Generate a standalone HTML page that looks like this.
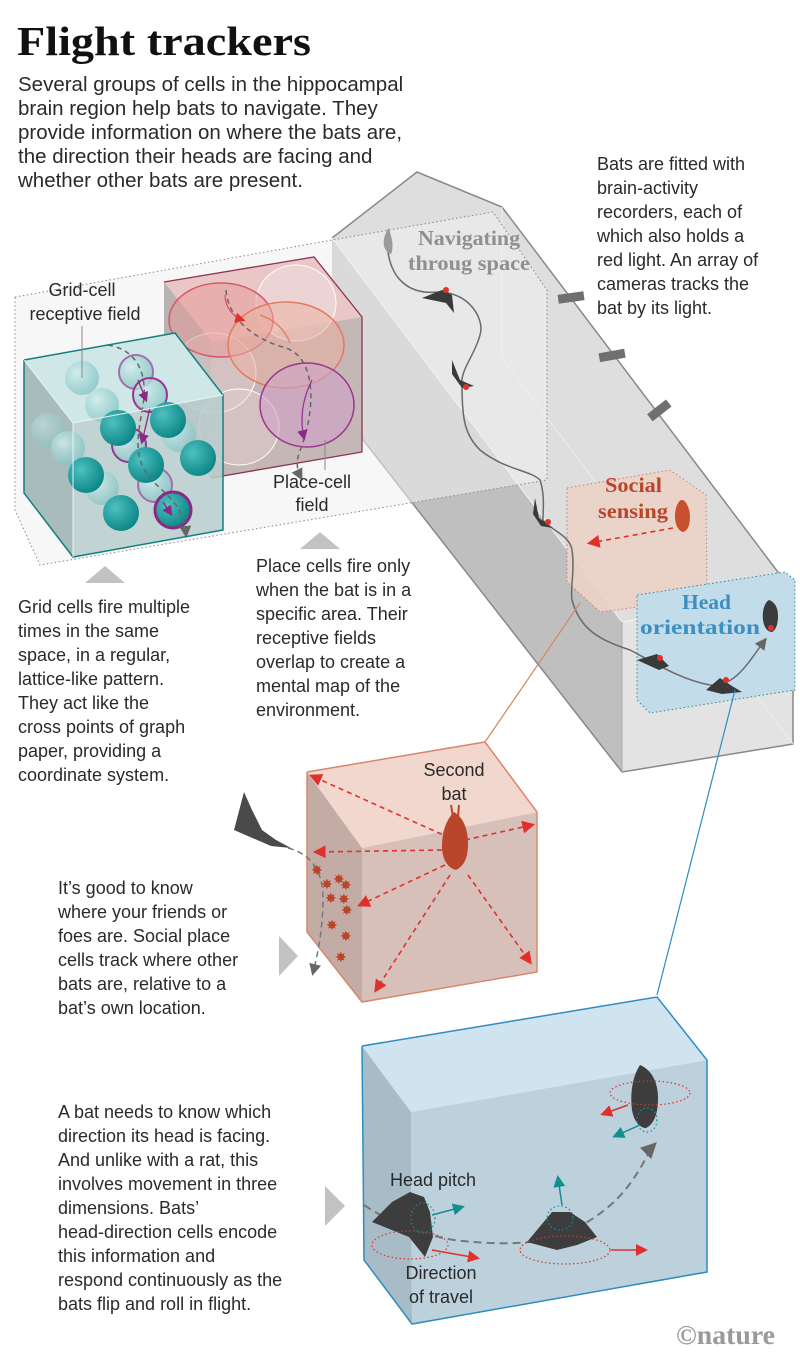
<!DOCTYPE html>
<html><head><meta charset="utf-8"><style>
html,body{margin:0;padding:0;background:#fff;}
svg{display:block;}
.t{font-family:"Liberation Sans",sans-serif;font-size:18px;fill:#2a2a2a;}
.i{font-family:"Liberation Sans",sans-serif;font-size:20.5px;fill:#2a2a2a;}
.s{font-family:"Liberation Serif",serif;font-weight:bold;font-size:21px;}
</style></head><body>
<svg width="800" height="1368" viewBox="0 0 800 1368" xmlns="http://www.w3.org/2000/svg">
<defs>
<marker id="ag" markerWidth="8" markerHeight="8" refX="6" refY="4" orient="auto"><path d="M0,0 L8,4 L0,8 Z" fill="#666"/></marker>
<marker id="ar" markerWidth="8" markerHeight="8" refX="6" refY="4" orient="auto"><path d="M0,0 L8,4 L0,8 Z" fill="#e0302a"/></marker>
<marker id="at" markerWidth="8" markerHeight="8" refX="6" refY="4" orient="auto"><path d="M0,0 L8,4 L0,8 Z" fill="#138f8f"/></marker>
<marker id="ap" markerWidth="8" markerHeight="8" refX="6" refY="4" orient="auto"><path d="M0,0 L8,4 L0,8 Z" fill="#8a2a86"/></marker>
<radialGradient id="gt" cx="0.35" cy="0.35" r="0.7"><stop offset="0" stop-color="#4fc0c0"/><stop offset="1" stop-color="#0a8585"/></radialGradient>
<radialGradient id="gl" cx="0.35" cy="0.35" r="0.7"><stop offset="0" stop-color="#d4eeee" stop-opacity="0.8"/><stop offset="1" stop-color="#7cc0c0" stop-opacity="0.7"/></radialGradient>
</defs>

<!-- Title & intro -->
<text x="17" y="55" font-family="'Liberation Serif',serif" font-weight="bold" font-size="41" fill="#111" textLength="294" lengthAdjust="spacingAndGlyphs">Flight trackers</text>
<text class="i" x="18" y="91">Several groups of cells in the hippocampal</text>
<text class="i" x="18" y="115">brain region help bats to navigate. They</text>
<text class="i" x="18" y="139">provide information on where the bats are,</text>
<text class="i" x="18" y="163">the direction their heads are facing and</text>
<text class="i" x="18" y="187">whether other bats are present.</text>

<text class="t" x="597" y="170">Bats are fitted with</text>
<text class="t" x="597" y="194">brain-activity</text>
<text class="t" x="597" y="218">recorders, each of</text>
<text class="t" x="597" y="242">which also holds a</text>
<text class="t" x="597" y="266">red light. An array of</text>
<text class="t" x="597" y="290">cameras tracks the</text>
<text class="t" x="597" y="314">bat by its light.</text>

<!-- Big prism -->
<polygon points="332,238 622,622 622,772 332,400" fill="#bfbfbf"/>
<polygon points="332,238 417,172 502,207 793,592 622,622" fill="#dedede"/>
<polygon points="622,622 793,592 793,744 622,772" fill="#e3e3e3"/>
<polyline points="332,238 417,172 502,207 793,592 793,744 622,772 332,400" fill="none" stroke="#888" stroke-width="1.5"/>
<line x1="332" y1="238" x2="622" y2="622" stroke="#f4f4f4" stroke-width="1"/>
<line x1="622" y1="622" x2="793" y2="592" stroke="#f4f4f4"/>
<line x1="622" y1="622" x2="622" y2="772" stroke="#aaa"/>
<line x1="502" y1="207" x2="502" y2="358" stroke="#eee"/>
<line x1="502" y1="358" x2="793" y2="744" stroke="#eee"/>
<!-- cameras -->
<rect x="558" y="293" width="26" height="9" fill="#6d706c" transform="rotate(-8 571 297)"/>
<rect x="599" y="351" width="26" height="9" fill="#6d706c" transform="rotate(-10 612 355)"/>
<rect x="647" y="406" width="24" height="9" fill="#6d706c" transform="rotate(-38 659 410)"/>

<!-- Social sensing box -->
<polygon points="567,488 670,470 706,495 707,598 600,612 567,582" fill="#ecd2c6" opacity="0.9" stroke="#c47a62" stroke-dasharray="1.5,2.5" stroke-width="1"/>
<text class="s" x="605" y="492" fill="#b9452b" textLength="57" lengthAdjust="spacingAndGlyphs">Social</text>
<text class="s" x="598" y="518" fill="#b9452b" textLength="70" lengthAdjust="spacingAndGlyphs">sensing</text>
<path d="M681,500 c-4,2 -6,10 -6,16 c0,10 4,15 8,16 c4,-1 7,-6 7,-15 c0,-7 -3,-15 -7,-17 z" fill="#c8502f"/>
<line x1="673" y1="528" x2="590" y2="543" stroke="#e0302a" stroke-width="1.6" stroke-dasharray="5,4" marker-end="url(#ar)"/>

<!-- Head orientation box -->
<polygon points="637,595 785,572 795,580 795,690 650,713 637,700" fill="#c3dcea" stroke="#2a8a9a" stroke-dasharray="1.5,2.5"/>
<text class="s" x="682" y="609" fill="#3b8fc2" textLength="49" lengthAdjust="spacingAndGlyphs">Head</text>
<text class="s" x="640" y="634" fill="#3b8fc2" textLength="120" lengthAdjust="spacingAndGlyphs">orientation</text>
<path d="M769,600 c-5,3 -7,12 -6,20 c1,8 5,12 9,12 c4,-2 6,-8 6,-16 c0,-8 -3,-14 -9,-16 z" fill="#3b3b3b"/>
<circle cx="771" cy="628" r="3" fill="#e0302a"/>

<!-- Slab (translucent) -->
<polygon points="15,297 332,240 493,212 547,290 547,480 40,565 15,510" fill="#f1f1f1" fill-opacity="0.55" stroke="#888" stroke-dasharray="1.5,2.5"/>

<!-- Flight path in prism -->
<path d="M388,252 C392,280 410,295 438,292 C470,292 485,320 480,335 C475,355 460,370 462,385 C462,420 465,435 480,450 C505,470 530,470 540,480 C545,495 543,510 543,520 C550,530 570,535 572,550 C575,570 570,590 572,600 C580,630 600,640 630,650 C650,660 680,680 710,685 C735,688 750,660 765,640" fill="none" stroke="#6a6a6a" stroke-width="1.5" marker-end="url(#ag)"/>
<path d="M389,228 c-4,4 -6,12 -5,18 c2,6 5,8 7,8 c2,-4 2,-12 0,-18 z" fill="#9a9a9a"/>
<g fill="#3a3a3a">
<path d="M422,298 l20,-8 l10,5 l2,18 l-8,-10 z"/>
<path d="M452,360 l8,20 l14,6 l-12,2 l-10,-14 z"/>
<path d="M535,498 l4,20 l14,10 l-12,-2 l-8,-12 z"/>
<path d="M637,660 l20,-6 l12,12 l-10,4 z"/>
<path d="M706,690 l14,-12 l12,8 l10,6 l-20,2 z"/>
</g>
<g fill="#e0302a"><circle cx="446" cy="290" r="3"/><circle cx="466" cy="387" r="3"/><circle cx="548" cy="522" r="3"/><circle cx="660" cy="658" r="3"/><circle cx="726" cy="680" r="3"/></g>
<text class="s" x="418" y="245" fill="#8f8f8f" textLength="102" lengthAdjust="spacingAndGlyphs">Navigating</text>
<text class="s" x="408" y="270" fill="#8f8f8f" textLength="122" lengthAdjust="spacingAndGlyphs">throug space</text>

<!-- Place-cell cube -->
<polygon points="164,282 314,257 362,317 212,342" fill="#e9c7c7"/>
<polygon points="212,342 362,317 362,452 211,478" fill="#c6b7b7"/>
<polygon points="164,282 212,342 211,478 164,420" fill="#b8b2b2"/>
<ellipse cx="296" cy="303" rx="40" ry="38" fill="#f2e2e2" fill-opacity="0.5" stroke="#fff"/>
<ellipse cx="214" cy="373" rx="42" ry="40" fill="#e8d0d0" fill-opacity="0.4" stroke="#fff"/>
<ellipse cx="239" cy="427" rx="40" ry="38" fill="#e8d0d0" fill-opacity="0.4" stroke="#fff"/>
<ellipse cx="221" cy="320" rx="52" ry="37" fill="#e79a9a" fill-opacity="0.55" stroke="#d9566a" stroke-width="1.5"/>
<ellipse cx="286" cy="345" rx="58" ry="43" fill="#eab0a0" fill-opacity="0.55" stroke="#e07a60" stroke-width="1.5"/>
<ellipse cx="307" cy="405" rx="47" ry="42" fill="#cfa1c8" fill-opacity="0.6" stroke="#9a3690" stroke-width="1.5"/>
<polyline points="164,282 314,257 362,317 362,452 211,478" fill="none" stroke="#8b3552" stroke-width="1.3"/>
<path d="M226,290 c2,30 30,50 60,58 c30,10 30,60 15,100 c-5,12 -5,20 0,30" fill="none" stroke="#666" stroke-width="1.5" stroke-dasharray="5,4" marker-end="url(#ag)"/>
<path d="M225,295 c0,12 8,22 18,25" fill="none" stroke="#d9566a" stroke-width="1.3" marker-end="url(#ar)"/>
<path d="M260,315 c15,5 25,15 30,28" fill="none" stroke="#e07a60" stroke-width="1.3"/>
<path d="M312,380 c-10,20 -12,40 -8,58" fill="none" stroke="#9a3690" stroke-width="1.3" marker-end="url(#ap)"/>

<!-- Grid-cell cube -->
<polygon points="24,360 175,333 223,395 73,423" fill="#cfe7e7"/>
<polygon points="24,360 73,423 73,557 24,493" fill="#a8bcbc"/>
<polygon points="73,423 223,395 223,530 73,557" fill="#b8cccc" fill-opacity="0.85"/>
<g>
<circle cx="82" cy="378" r="17" fill="url(#gl)"/>
<circle cx="136" cy="372" r="17" fill="url(#gl)" stroke="#a56db0" stroke-width="2"/>
<circle cx="48" cy="430" r="17" fill="url(#gl)" opacity="0.6"/>
<circle cx="102" cy="405" r="17" fill="url(#gl)"/>
<circle cx="150" cy="395" r="17" fill="url(#gl)" stroke="#9a3690" stroke-width="2"/>
<circle cx="68" cy="448" r="17" fill="url(#gl)"/>
<circle cx="129" cy="445" r="17" fill="url(#gl)" stroke="#9a3690" stroke-width="2"/>
<circle cx="179" cy="435" r="17" fill="url(#gl)"/>
<circle cx="102" cy="488" r="17" fill="url(#gl)"/>
<circle cx="155" cy="485" r="17" fill="url(#gl)" stroke="#a56db0" stroke-width="2"/>
<circle cx="118" cy="428" r="18" fill="url(#gt)"/>
<circle cx="168" cy="420" r="18" fill="url(#gt)"/>
<circle cx="86" cy="475" r="18" fill="url(#gt)"/>
<circle cx="146" cy="465" r="18" fill="url(#gt)"/>
<circle cx="198" cy="458" r="18" fill="url(#gt)"/>
<circle cx="121" cy="513" r="18" fill="url(#gt)"/>
<circle cx="173" cy="510" r="18" fill="url(#gt)" stroke="#8a2a86" stroke-width="3"/>
</g>
<path d="M108,345 c30,5 40,30 35,60 c-5,30 -10,50 5,70 c15,20 35,25 38,60" fill="none" stroke="#666" stroke-width="1.5" stroke-dasharray="5,4" marker-end="url(#ag)"/>
<path d="M138,380 l8,20" stroke="#8a2a86" stroke-width="1.3" marker-end="url(#ap)"/>
<path d="M150,408 l-8,34" stroke="#8a2a86" stroke-width="1.3" marker-end="url(#ap)"/>
<path d="M163,502 l8,12" stroke="#8a2a86" stroke-width="1.3" marker-end="url(#ap)"/>
<polyline points="24,360 175,333 223,395 223,530 73,557 24,493 24,360" fill="none" stroke="#137f80" stroke-width="1.5"/>
<polyline points="24,360 73,423 223,395" fill="none" stroke="#e8f4f4" stroke-width="1"/>
<line x1="73" y1="423" x2="73" y2="557" stroke="#e8f4f4"/>

<text class="t" x="82" y="296" text-anchor="middle">Grid-cell</text>
<text class="t" x="85" y="320" text-anchor="middle">receptive field</text>
<line x1="82" y1="326" x2="82" y2="378" stroke="#888"/>
<text class="t" x="312" y="488" text-anchor="middle">Place-cell</text>
<text class="t" x="312" y="511" text-anchor="middle">field</text>
<line x1="325" y1="440" x2="325" y2="470" stroke="#888"/>

<polygon points="85,583 125,583 105,566" fill="#c2c2c2"/>
<polygon points="300,549 340,549 320,532" fill="#c2c2c2"/>

<text class="t" x="18" y="613">Grid cells fire multiple</text>
<text class="t" x="18" y="637">times in the same</text>
<text class="t" x="18" y="661">space, in a regular,</text>
<text class="t" x="18" y="685">lattice-like pattern.</text>
<text class="t" x="18" y="709">They act like the</text>
<text class="t" x="18" y="733">cross points of graph</text>
<text class="t" x="18" y="757">paper, providing a</text>
<text class="t" x="18" y="781">coordinate system.</text>

<text class="t" x="256" y="572">Place cells fire only</text>
<text class="t" x="256" y="596">when the bat is in a</text>
<text class="t" x="256" y="620">specific area. Their</text>
<text class="t" x="256" y="644">receptive fields</text>
<text class="t" x="256" y="668">overlap to create a</text>
<text class="t" x="256" y="692">mental map of the</text>
<text class="t" x="256" y="716">environment.</text>

<line x1="485" y1="742" x2="580" y2="603" stroke="#d9876a" stroke-width="1.3"/>
<line x1="657" y1="995" x2="735" y2="690" stroke="#2a8ec0" stroke-width="1.2"/>

<!-- Social cube -->
<polygon points="307,772 485,742 537,812 362,848" fill="#f1d7cd"/>
<polygon points="307,772 362,848 362,1002 307,932" fill="#c4aca6"/>
<polygon points="362,848 537,812 537,972 362,1002" fill="#d8c0ba"/>
<polyline points="307,772 485,742 537,812 537,972 362,1002 307,932 307,772" fill="none" stroke="#d9876a" stroke-width="1.5"/>
<text class="t" x="454" y="776" text-anchor="middle">Second</text>
<text class="t" x="454" y="800" text-anchor="middle">bat</text>
<g stroke="#e0302a" stroke-width="1.6" stroke-dasharray="5,4" fill="none">
<line x1="450" y1="838" x2="312" y2="776" marker-end="url(#ar)"/>
<line x1="465" y1="840" x2="532" y2="825" marker-end="url(#ar)"/>
<line x1="442" y1="850" x2="316" y2="852" marker-end="url(#ar)"/>
<line x1="445" y1="865" x2="360" y2="905" marker-end="url(#ar)"/>
<line x1="450" y1="875" x2="376" y2="990" marker-end="url(#ar)"/>
<line x1="468" y1="875" x2="530" y2="962" marker-end="url(#ar)"/>
</g>
<path d="M454,812 c-8,8 -12,20 -12,34 c0,14 6,22 14,24 c8,-4 12,-12 12,-26 c0,-14 -4,-26 -14,-32 z" fill="#b9452b"/>
<path d="M451,805 l2,12 M459,805 l-1,12" stroke="#b9452b" stroke-width="2"/>
<path d="M234,830 l10,-38 l8,18 l10,20 l14,10 l15,8 l-20,-2 z" fill="#4a4a4a"/>
<path d="M288,848 c20,5 35,20 35,50 c0,30 -5,55 -10,75" fill="none" stroke="#777" stroke-width="1.5" stroke-dasharray="6,4" marker-end="url(#ag)"/>
<g fill="#b9452b" font-size="14" font-family="'DejaVu Sans',sans-serif">
<text x="311" y="875">✸</text><text x="321" y="889">✸</text><text x="333" y="884">✸</text><text x="340" y="890">✸</text><text x="325" y="903">✸</text><text x="338" y="904">✸</text><text x="341" y="915">✸</text><text x="326" y="930">✸</text><text x="340" y="941">✸</text><text x="335" y="962">✸</text>
</g>

<polygon points="279,936 298,956 279,976" fill="#c2c2c2"/>
<text class="t" x="58" y="894">It’s good to know</text>
<text class="t" x="58" y="918">where your friends or</text>
<text class="t" x="58" y="942">foes are. Social place</text>
<text class="t" x="58" y="966">cells track where other</text>
<text class="t" x="58" y="990">bats are, relative to a</text>
<text class="t" x="58" y="1014">bat’s own location.</text>

<!-- Head cube -->
<polygon points="362,1046 657,997 707,1060 411,1112" fill="#d0e4ef"/>
<polygon points="362,1046 411,1112 412,1324 364,1260" fill="#a7bcc6"/>
<polygon points="411,1112 707,1060 707,1272 412,1324" fill="#bdd1dc"/>
<polyline points="362,1046 657,997 707,1060 707,1272 412,1324 364,1260 362,1046" fill="none" stroke="#2a8ec0" stroke-width="1.5"/>
<path d="M364,1205 c30,20 60,30 90,35 c40,5 80,5 110,-5 c30,-15 50,-30 65,-50 c15,-20 20,-35 25,-40" fill="none" stroke="#777" stroke-width="2" stroke-dasharray="8,5" marker-end="url(#ag)"/>
<g fill="#3d3d3d">
<path d="M372,1222 l20,-20 l18,-10 l14,5 l6,15 l3,25 l-8,20 l-16,-20 z"/>
<path d="M527,1242 l25,-30 l18,0 l15,10 l12,15 l-20,8 l-20,5 z"/>
<path d="M640,1065 c-8,12 -10,30 -8,45 c2,12 8,18 14,18 c8,-4 12,-14 12,-30 c0,-15 -6,-28 -18,-33 z"/>
</g>
<g fill="none" stroke="#e0302a" stroke-width="1.2" stroke-dasharray="1.5,2.5">
<ellipse cx="410" cy="1245" rx="38" ry="14"/>
<ellipse cx="565" cy="1250" rx="45" ry="14"/>
<ellipse cx="650" cy="1093" rx="40" ry="12"/>
</g>
<g fill="none" stroke="#138f8f" stroke-width="1.2" stroke-dasharray="1.5,2.5">
<ellipse cx="423" cy="1218" rx="12" ry="15"/>
<ellipse cx="560" cy="1218" rx="13" ry="12"/>
<ellipse cx="647" cy="1120" rx="10" ry="12"/>
</g>
<g stroke="#e0302a" stroke-width="1.5" fill="none">
<line x1="432" y1="1250" x2="477" y2="1258" marker-end="url(#ar)"/>
<line x1="611" y1="1250" x2="645" y2="1250" marker-end="url(#ar)"/>
<line x1="628" y1="1105" x2="603" y2="1114" marker-end="url(#ar)"/>
</g>
<g stroke="#138f8f" stroke-width="1.5" fill="none">
<line x1="432" y1="1215" x2="462" y2="1207" marker-end="url(#at)"/>
<line x1="562" y1="1205" x2="558" y2="1178" marker-end="url(#at)"/>
<line x1="640" y1="1125" x2="615" y2="1136" marker-end="url(#at)"/>
</g>
<text class="t" x="390" y="1186">Head pitch</text>
<text class="t" x="441" y="1279" text-anchor="middle">Direction</text>
<text class="t" x="441" y="1303" text-anchor="middle">of travel</text>

<polygon points="325,1186 345,1206 325,1226" fill="#c2c2c2"/>
<text class="t" x="58" y="1118">A bat needs to know which</text>
<text class="t" x="58" y="1142">direction its head is facing.</text>
<text class="t" x="58" y="1166">And unlike with a rat, this</text>
<text class="t" x="58" y="1190">involves movement in three</text>
<text class="t" x="58" y="1214">dimensions. Bats’</text>
<text class="t" x="58" y="1238">head-direction cells encode</text>
<text class="t" x="58" y="1262">this information and</text>
<text class="t" x="58" y="1286">respond continuously as the</text>
<text class="t" x="58" y="1310">bats flip and roll in flight.</text>

<text x="676" y="1344" font-family="'Liberation Serif',serif" font-weight="bold" font-size="27" fill="#9a9a9a" textLength="99" lengthAdjust="spacingAndGlyphs">©nature</text>
</svg>
</body></html>
